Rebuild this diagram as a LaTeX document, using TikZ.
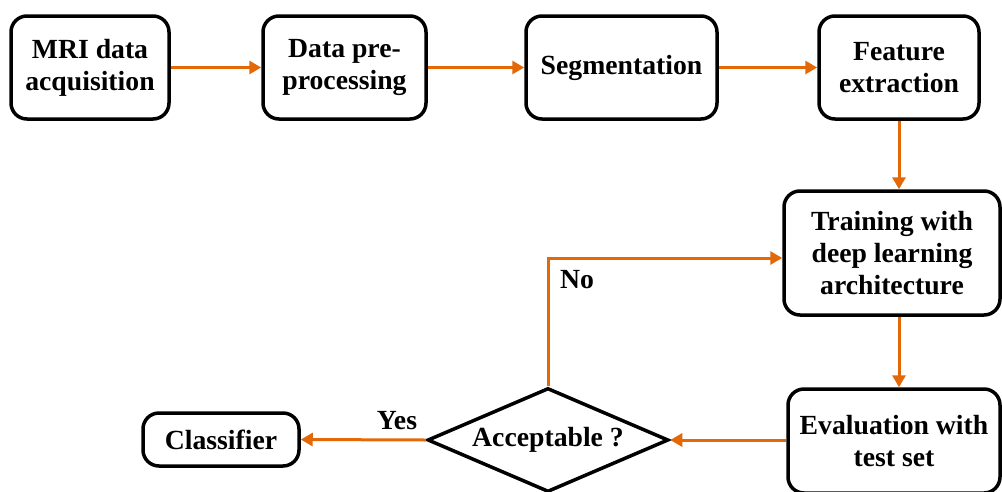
\documentclass[tikz,border=0pt]{standalone}
\usepackage{fontspec}
\setmainfont{Liberation Serif}
\usetikzlibrary{shapes.geometric,arrows.meta}
\definecolor{arrowor}{RGB}{226,104,8}
\begin{document}
\begin{tikzpicture}[x=1pt,y=-1pt,
  box/.style={draw=black, line width=3.5pt, rounded corners=16pt, align=center,
    inner sep=2pt, font=\fontsize{27.7}{32}\selectfont\bfseries},
  decide/.style={draw=black, line width=3.5pt, shape=diamond, aspect=2.32, inner sep=0pt,
    minimum width=241pt, minimum height=104pt, font=\fontsize{27.7}{32}\selectfont\bfseries},
  flow/.style={draw=arrowor, line width=3pt, -{Triangle[length=12pt,width=13pt]}},
  lbl/.style={font=\fontsize{27.7}{32}\selectfont\bfseries}]
\useasboundingbox (0,0) rectangle (1002,491);
\node[box, minimum width=158pt, minimum height=103pt] (b1) at (90,67.5) {MRI data\\acquisition};
\node[box, minimum width=163pt, minimum height=103pt] (b2) at (344.5,67.5) {Data pre-\\processing};
\node[box, minimum width=191pt, minimum height=103pt] (b3) at (621.5,67.5) {Segmentation};
\node[box, minimum width=160pt, minimum height=103pt] (b4) at (899,67.5) {Feature\\extraction};
\node[box, minimum width=216pt, minimum height=124pt] (tr) at (892,253) {Training with\\deep learning\\architecture};
\node[box, minimum width=212pt, minimum height=104pt] (ev) at (894,441) {Evaluation with\\test set};
\node[decide] (dia) at (548,440) {Acceptable ?};
\node[box, minimum width=156pt, minimum height=53pt] (cl) at (221,439.5) {Classifier};
\coordinate (nolvl) at (0,258);
\draw[flow] (b1.east) -- (b2.west);
\draw[flow] (b2.east) -- (b3.west);
\draw[flow] (b3.east) -- (b4.west);
\draw[flow] (b4.south) -- (b4.south |- tr.north);
\draw[flow] (tr.south -| b4.south) -- (b4.south |- ev.north);
\draw[flow] (ev.west |- dia.east) -- (dia.east);
\draw[flow] (dia.west) -- (cl.east);
\draw[flow] (dia.north) -- (dia.north |- nolvl) -- (tr.west |- nolvl);
\node[lbl] (no) at (577,280) {No};
\node[lbl] (yes) at (397,421) {Yes};
\end{tikzpicture}
\end{document}
